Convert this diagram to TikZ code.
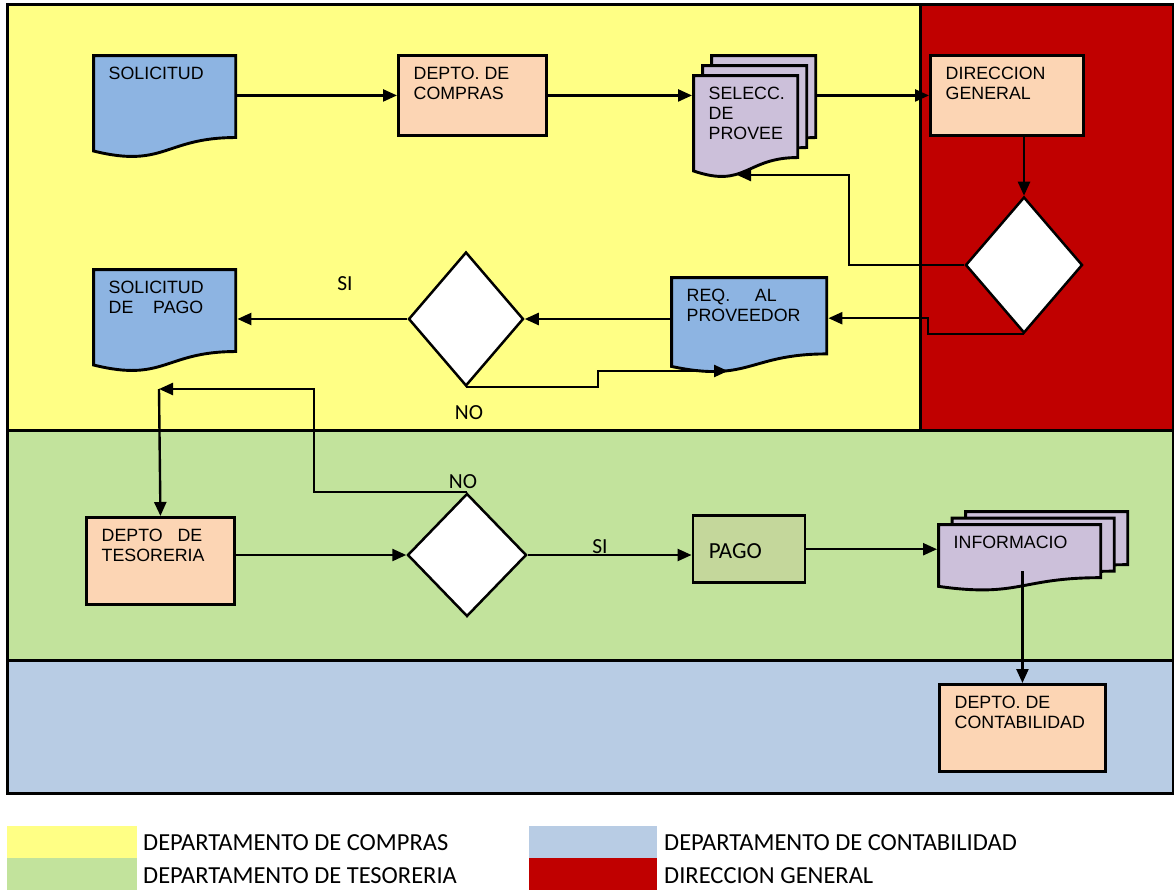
\documentclass[tikz,border=0pt]{standalone}
\usepackage{fontspec}
\setmainfont{Liberation Sans}
\newfontfamily\calibri{Carlito}
\usetikzlibrary{shapes.geometric,shapes.misc,arrows.meta,positioning,calc}

\definecolor{compras}{RGB}{255,255,133}
\definecolor{direccion}{RGB}{192,0,0}
\definecolor{tesoreria}{RGB}{194,227,156}
\definecolor{contab}{RGB}{184,204,228}
\definecolor{docblue}{RGB}{141,180,226}
\definecolor{peach}{RGB}{252,213,180}
\definecolor{lilac}{RGB}{204,192,218}
\definecolor{olive}{RGB}{196,215,155}

\tikzset{
    lane/.style     = {draw=black, line width=3pt},
    sheetline/.style= {draw=black, line width=2.9pt, line join=miter},
    proc/.style     = {rectangle, draw=black, line width=2.9pt, fill=peach,
                       anchor=north west, inner sep=0pt},
    dec/.style      = {diamond, draw=black, line width=2.5pt, fill=white, inner sep=0pt},
    lbl/.style      = {anchor=north west, inner sep=0pt, align=left,
                       xshift=16.5pt, yshift=-12.5pt, font=\fontsize{17.8}{20}\selectfont},
    txt/.style      = {label={[lbl]north west:{#1}}},
    note/.style     = {inner sep=0pt, font=\calibri\fontsize{21.5}{24}\selectfont},
    legend/.style   = {anchor=west, inner sep=0pt, font=\calibri\fontsize{24.5}{27}\selectfont},
    conn/.style     = {line width=2.4pt, -{Triangle[length=14pt,width=12pt]}},
    doc/.style n args={3}{rectangle, draw=none, inner sep=0pt, anchor=north west,
                       minimum width=#2pt, minimum height=#3pt,
                       path picture={
                         \filldraw[sheetline, fill=#1]
                           let \p1=([shift={(1.45pt,-1.45pt)}]path picture bounding box.north west),
                               \p2=([shift={(-1.45pt,1.45pt)}]path picture bounding box.south east),
                               \n1={\y1-\y2}
                           in (\x1,\y1) -- (\x2,\y1) -- (\x2,\y1-0.802*\n1)
                              .. controls ({(\x1+\x2)/2},\y1-0.802*\n1) and ({(\x1+\x2)/2},\y1-1.1075*\n1)
                              .. (\x1,\y1-0.934*\n1) -- cycle;}},
    mdoc/.style n args={5}{rectangle, draw=none, inner sep=0pt, anchor=north west,
                       minimum width=#2pt, minimum height=#3pt,
                       path picture={
                         \foreach \k in {2,1,0}{
                         \filldraw[sheetline, fill=#1]
                           let \p1=([shift={(1.45pt+\k*#4pt,-1.45pt-2*#5pt+\k*#5pt)}]path picture bounding box.north west),
                               \p2=([shift={(-1.45pt-2*#4pt+\k*#4pt,1.45pt+\k*#5pt)}]path picture bounding box.south east),
                               \n1={\y1-\y2}
                           in (\x1,\y1) -- (\x2,\y1) -- (\x2,\y1-0.802*\n1)
                              .. controls ({(\x1+\x2)/2},\y1-0.802*\n1) and ({(\x1+\x2)/2},\y1-1.1075*\n1)
                              .. (\x1,\y1-0.934*\n1) -- cycle;}}},
    card/.style     = {chamfered rectangle, chamfered rectangle corners=north west,
                       chamfered rectangle xsep=22pt, chamfered rectangle ysep=13pt,
                       draw=black, line width=2.9pt, fill=olive, anchor=north west, inner sep=0pt}
}

\begin{document}
\begin{tikzpicture}[x=1pt, y=-1pt]
        \useasboundingbox (0,0) rectangle (1174,890);
        \fill[white] (0,0) rectangle (1174,890);
        % ---------------------------------------------------------------------------
        % Draw lanes and legend
        % ---------------------------------------------------------------------------
        \filldraw[lane, fill=compras]   (7,5)   rectangle (920,430);
        \filldraw[lane, fill=direccion] (920,5) rectangle (1173,430);
        \filldraw[lane, fill=tesoreria] (7,430) rectangle (1173,660);
        \filldraw[lane, fill=contab]    (7,660) rectangle (1173,793);

        \fill[compras]   (7,826)   rectangle (137,858);
        \fill[tesoreria] (7,858)   rectangle (137,890);
        \fill[contab]    (529,826) rectangle (657,858);
        \fill[direccion] (529,858) rectangle (657,890);

        \node[legend] (lgCompras)   at (143,843) {DEPARTAMENTO DE COMPRAS};
        \node[legend] (lgTesoreria) at (143,876) {DEPARTAMENTO DE TESORERIA};
        \node[legend] (lgContab)    at (664,843) {DEPARTAMENTO DE CONTABILIDAD};
        \node[legend] (lgDireccion) at (664,876) {DIRECCION GENERAL};

        % ---------------------------------------------------------------------------
        % Draw nodes
        % ---------------------------------------------------------------------------
        \node[  doc={docblue}{145}{105},
                txt={SOLICITUD}]                        (Solicitud) at (92,54) {};

        \node[  proc,
                minimum width = 148pt,
                minimum height = 80pt,
                txt={DEPTO. DE\\COMPRAS}]               (Compras) at (397,54) {};

        \node[  mdoc={lilac}{125}{125}{9}{10},
                label={[lbl, yshift=-20pt]north west:{SELECC.\\DE\\PROVEE}}] (Selecc) at (692,54) {};

        \node[  proc,
                minimum width = 153pt,
                minimum height = 80pt,
                txt={DIRECCION\\GENERAL}]               (Direccion) at (929,54) {};

        \node[  dec,
                minimum width = 117pt,
                minimum height = 136pt]                 (DecDir) at (1024,265) {};

        \node[  doc={docblue}{158}{98},
                txt={REQ.\ \ \ \ \ AL\\PROVEEDOR}]      (Req) at (670,276) {};

        \node[  dec,
                minimum width = 115pt,
                minimum height = 134pt]                 (DecReq) at (466,319) {};

        \node[  doc={docblue}{145}{105},
                txt={SOLICITUD\\DE\ \ \ \ PAGO}]        (SolPago) at (92,268) {};

        \node[  proc,
                minimum width = 148pt,
                minimum height = 87pt,
                txt={DEPTO\ \ \ DE\\TESORERIA}]         (Tesoreria) at (85,516) {};

        \node[  dec,
                minimum width = 119pt,
                minimum height = 123pt]                 (DecTes) at (467,555) {};

        \node[  card,
                minimum width = 112pt,
                minimum height = 67pt,
                label={[note, anchor=west, xshift=17pt, yshift=-2pt, font=\calibri\fontsize{23}{26}\selectfont]west:PAGO}] (Pago) at (693,515) {};

        \node[  mdoc={lilac}{192}{82}{13.5}{6.5},
                label={[lbl, yshift=-13pt]north west:{INFORMACIO}}] (Info) at (937,510) {};

        \node[  proc,
                minimum width = 166pt,
                minimum height = 87pt,
                txt={DEPTO. DE\\CONTABILIDAD}]          (Contab) at (938,683) {};

        \coordinate (SeleccB) at (737,175);
        \coordinate (ReqB)    at (728,371);
        \coordinate (Loop)    at (159,389);

        \node[note] (si1) at (345,284) {SI};
        \node[note] (no1) at (469,413) {NO};
        \node[note] (no2) at (463,482) {NO};
        \node[note] (si2) at (600,547) {SI};

        % ---------------------------------------------------------------------------
        % Draw arrows
        % ---------------------------------------------------------------------------
        \draw [conn]    (Compras.west -| Solicitud.east)    -- (Compras.west);                  % Solicitud
        \draw [conn]    (Compras.east)                      -- (Compras.east -| Selecc.west);   % Compras
        \draw [conn]    (Direccion.west -| Selecc.east)     -- (Direccion.west);                % Seleccion
        \draw [conn]    (DecDir.north |- Direccion.south)   -- (DecDir.north);                  % Direccion
        \draw [conn]    (DecDir.west)   -- ++(-115,0)       |- (SeleccB);                       % back to seleccion
        \draw [conn]    (DecDir.south)  -- ++(-96,0)        |- ([yshift=7pt]Req.east);          % requerimiento
        \draw [conn]    (DecReq.east -| Req.west)           -- (DecReq.east);                   % Req
        \draw [conn]    (DecReq.south)  -- ++(132,0)        |- (ReqB);                          % NO
        \draw [conn]    (DecReq.west)                       -- (DecReq.west -| SolPago.east);   % SI
        \draw [conn]    (DecTes.north)  -- ++(-153,0)       |- (Loop);                          % NO
        \draw [conn]    (Loop)                              -- (Tesoreria.north);               % Tesoreria
        \draw [conn]    (DecTes.west -| Tesoreria.east)     -- (DecTes.west);                   % Tesoreria
        \draw [conn]    (DecTes.east)                       -- (DecTes.east -| Pago.west);      % SI
        \draw [conn]    (Pago.east)                         -- (Pago.east -| Info.west);        % Pago
        \draw [conn]    ([yshift=-20pt]Contab.north |- Info.center) -- (Contab.north);          % Contabilidad

\end{tikzpicture}
\end{document}
